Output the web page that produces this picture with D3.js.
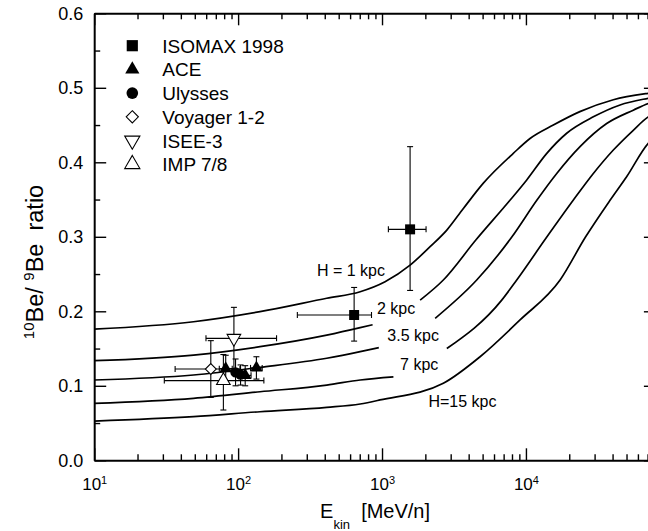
<!DOCTYPE html>
<html><head><meta charset="utf-8">
<script src="https://cdn.jsdelivr.net/npm/d3@7"></script>
<style>
body{margin:0;background:#fff}
svg{display:block}
text{font-family:"Liberation Sans",Arial,Helvetica,sans-serif;fill:#000}
</style></head><body>
<svg id="c" width="648" height="531"></svg>
<script>
// ---------------- data ----------------
// model curves: [E (MeV/n), 10Be/9Be]; null = gap left for the label
const curveH1  = [[10,0.176],[49,0.186],[142,0.1995],[413,0.2175],[705,0.2263],[1050,0.2397],[1567,0.262],[2158,0.2867],[2820,0.309],[3675,0.338],[5060,0.372],[8170,0.412],[10680,0.432],[15500,0.450],[23700,0.468],[40500,0.484],[70800,0.4926],[80000,0.494]];
const curveH2  = [[10,0.1337],[49,0.1413],[142,0.1525],[413,0.168],[705,0.178],[860,0.182],null,[1840,0.215],[2667,0.242],[4500,0.296],[7745,0.349],[10100,0.376],[13960,0.412],[19200,0.439],[29400,0.461],[45100,0.477],[70800,0.486],[80000,0.488]];
const curveH35 = [[10,0.1078],[49,0.1145],[142,0.1248],[413,0.137],[705,0.1458],[950,0.1513],null,[2340,0.1906],[4550,0.242],[8000,0.300],[11900,0.349],[16370,0.385],[23770,0.421],[36400,0.452],[55700,0.470],[70800,0.479],[80000,0.482]];
const curveH7  = [[10,0.0765],[49,0.0832],[142,0.092],[413,0.101],[705,0.1078],[1200,0.112],null,[2820,0.150],[6790,0.215],[8630,0.242],[14000,0.300],[21300,0.349],[29400,0.385],[40500,0.4165],[55700,0.443],[70800,0.461],[80000,0.466]];
const curveH15 = [[10,0.0527],[49,0.0585],[142,0.0652],[413,0.071],[705,0.0756],[968,0.081],[2667,0.1034],[4800,0.139],[9100,0.1884],[17270,0.242],[26000,0.300],[38400,0.349],[50200,0.381],[70800,0.4255],[80000,0.435]];
const curveNames = ["H = 1 kpc","2 kpc","3.5 kpc","7 kpc","H=15 kpc"];
// label anchors in data units [E, value]
const curveLabelAt = [[353,0.2474],[923,0.1966],[1089,0.1601],[1334,0.1212],[2100,0.0715]];

// measurements: E, value, E-range, value-range
const isomaxE = [640, 1567], isomaxV = [0.195, 0.310];
const isomaxXlo = [258, 1107], isomaxXhi = [845, 2023];
const isomaxYlo = [0.160, 0.228], isomaxYhi = [0.232, 0.421];

const aceE = [82, 112, 134], aceV = [0.123, 0.114, 0.124];
const aceXlo = [74, 102, 122], aceXhi = [91, 123, 147];
const aceYlo = [0.106, 0.100, 0.109], aceYhi = [0.141, 0.127, 0.139];

const ulyE = [96, 104], ulyV = [0.118, 0.115];
const ulyYlo = [0.100, 0.101], ulyYhi = [0.136, 0.128];

const voyE = [64.6], voyV = [0.1225];
const voyXlo = [36.5], voyXhi = [103];
const voyYlo = [0.0845], voyYhi = [0.1606];

const iseeE = [93.5], iseeV = [0.1637];
const iseeXlo = [59.8], iseeXhi = [185];
const iseeYlo = [0.123], iseeYhi = [0.2053];

const impE = [79], impV = [0.107];
const impXlo = [30.7], impXhi = [151];
const impYlo = [0.0675], impYhi = [0.142];

const legendNames = ["ISOMAX 1998","ACE","Ulysses","Voyager 1-2","ISEE-3","IMP 7/8"];

const xMajor = [10, 100, 1000, 10000];
const xExp = ["1","2","3","4"];
const yMajor = [0, 0.1, 0.2, 0.3, 0.4, 0.5, 0.6];
const yLabels = ["0.0","0.1","0.2","0.3","0.4","0.5","0.6"];
const yMinor = [0.05, 0.15, 0.25, 0.35, 0.45, 0.55];
const E_MIN = 10, E_MAX = 80000;

// ---------------- drawing ----------------
const svg = d3.select("#c");
const x = d3.scaleLog().domain([E_MIN, E_MAX]).range([94.2, 655.9]);
const y = d3.scaleLinear().domain([0, 0.6]).range([460.3, 13.3]);

const xMinor = [];
xMajor.forEach(d => { for (let k = 2; k <= 9; k++) if (d * k < E_MAX) xMinor.push(d * k); });

function styleAxis(g, labels) {
  g.attr("font-family", null).attr("font-size", null);
  g.select(".domain").attr("stroke", "#000").attr("stroke-width", 2);
  g.selectAll(".tick line").attr("stroke", "#000").attr("stroke-width", 1.4);
  if (!labels) g.selectAll(".tick text").remove();
}

// bottom
const gxB = svg.append("g").attr("transform", `translate(0,${y(0)})`)
  .call(d3.axisBottom(x).tickValues(xMajor).tickSize(-12).tickSizeOuter(0).tickPadding(18).tickFormat(() => ""));
styleAxis(gxB, true);
gxB.selectAll(".tick text").attr("font-size", 17).each(function (d, i) {
  const t = d3.select(this);
  t.append("tspan").text("10");
  t.append("tspan").attr("dy", "-0.55em").attr("font-size", 11).text(xExp[i]);
});
svg.append("g").attr("transform", `translate(0,${y(0)})`)
  .call(d3.axisBottom(x).tickValues(xMinor).tickSize(-6).tickSizeOuter(0).tickFormat(""))
  .call(g => { styleAxis(g, false); g.select(".domain").remove(); });
// top
svg.append("g").attr("transform", `translate(0,${y(0.6)})`)
  .call(d3.axisTop(x).tickValues(xMajor).tickSize(-12).tickSizeOuter(0).tickFormat(""))
  .call(g => styleAxis(g, false));
svg.append("g").attr("transform", `translate(0,${y(0.6)})`)
  .call(d3.axisTop(x).tickValues(xMinor).tickSize(-6).tickSizeOuter(0).tickFormat(""))
  .call(g => { styleAxis(g, false); g.select(".domain").remove(); });
// left
const gyL = svg.append("g").attr("transform", `translate(${x(E_MIN)},0)`)
  .call(d3.axisLeft(y).tickValues(yMajor).tickSize(-12).tickSizeOuter(0).tickPadding(11).tickFormat((d, i) => yLabels[i]));
styleAxis(gyL, true);
gyL.selectAll(".tick text").attr("font-size", 18);
svg.append("g").attr("transform", `translate(${x(E_MIN)},0)`)
  .call(d3.axisLeft(y).tickValues(yMinor).tickSize(-6).tickSizeOuter(0).tickFormat(""))
  .call(g => { styleAxis(g, false); g.select(".domain").remove(); });
// right
svg.append("g").attr("transform", `translate(${x(E_MAX)},0)`)
  .call(d3.axisRight(y).tickValues(yMajor).tickSize(-12).tickSizeOuter(0).tickFormat(""))
  .call(g => styleAxis(g, false));
svg.append("g").attr("transform", `translate(${x(E_MAX)},0)`)
  .call(d3.axisRight(y).tickValues(yMinor).tickSize(-6).tickSizeOuter(0).tickFormat(""))
  .call(g => { styleAxis(g, false); g.select(".domain").remove(); });

// axis titles
svg.append("text").attr("x", (x(E_MIN) + x(E_MAX)) / 2).attr("y", 518)
  .attr("text-anchor", "middle").attr("font-size", 20).style("white-space", "pre")
  .call(t => {
    t.append("tspan").text("E");
    t.append("tspan").attr("font-size", 13).attr("dy", 11).text("kin");
    t.append("tspan").attr("dy", -11).text("  [MeV/n]");
  });
svg.append("text").attr("transform", `translate(43,262) rotate(-90)`)
  .attr("text-anchor", "middle").attr("font-size", 23.5).style("white-space", "pre")
  .call(t => {
    t.append("tspan").attr("font-size", 15).attr("dy", -9).text("10");
    t.append("tspan").attr("dy", 9).text("Be/ ");
    t.append("tspan").attr("font-size", 15).attr("dy", -9).text("9");
    t.append("tspan").attr("dy", 9).text("Be  ratio");
  });

// clip to frame
svg.append("clipPath").attr("id", "clip").append("rect")
  .attr("x", x(E_MIN)).attr("y", y(0.6)).attr("width", x(E_MAX) - x(E_MIN)).attr("height", y(0) - y(0.6));

const line = d3.line().defined(d => d !== null).x(d => x(d[0])).y(d => y(d[1])).curve(d3.curveMonotoneX);
const curves = [curveH1, curveH2, curveH35, curveH7, curveH15];
svg.append("g").attr("clip-path", "url(#clip)").selectAll("path").data(curves).join("path")
  .attr("d", line).attr("fill", "none").attr("stroke", "#000").attr("stroke-width", 1.7);

svg.append("g").selectAll("text").data(curveNames).join("text")
  .attr("x", (d, i) => x(curveLabelAt[i][0])).attr("y", (d, i) => y(curveLabelAt[i][1]))
  .attr("font-size", 16).text(d => d);

// error bars
const eb = svg.append("g").attr("stroke", "#000").attr("stroke-width", 1.1).attr("fill", "none");
const CAP = 3;
function vbar(E, lo, hi) {
  E.forEach((e, i) => {
    const xx = x(e);
    eb.append("line").attr("x1", xx).attr("x2", xx).attr("y1", y(lo[i])).attr("y2", y(hi[i]));
    eb.append("line").attr("x1", xx - CAP).attr("x2", xx + CAP).attr("y1", y(lo[i])).attr("y2", y(lo[i]));
    eb.append("line").attr("x1", xx - CAP).attr("x2", xx + CAP).attr("y1", y(hi[i])).attr("y2", y(hi[i]));
  });
}
function hbar(V, lo, hi) {
  V.forEach((v, i) => {
    const yy = y(v);
    eb.append("line").attr("y1", yy).attr("y2", yy).attr("x1", x(lo[i])).attr("x2", x(hi[i]));
    eb.append("line").attr("y1", yy - CAP).attr("y2", yy + CAP).attr("x1", x(lo[i])).attr("x2", x(lo[i]));
    eb.append("line").attr("y1", yy - CAP).attr("y2", yy + CAP).attr("x1", x(hi[i])).attr("x2", x(hi[i]));
  });
}
vbar(impE, impYlo, impYhi); hbar(impV, impXlo, impXhi);
vbar(voyE, voyYlo, voyYhi); hbar(voyV, voyXlo, voyXhi);
vbar(iseeE, iseeYlo, iseeYhi); hbar(iseeV, iseeXlo, iseeXhi);
vbar(ulyE, ulyYlo, ulyYhi);
vbar(aceE, aceYlo, aceYhi); hbar(aceV, aceXlo, aceXhi);
vbar(isomaxE, isomaxYlo, isomaxYhi); hbar(isomaxV, isomaxXlo, isomaxXhi);

// symbols
const symDefs = [
  { type: d3.symbolSquare, size: 100, fill: "#000", rot: 0 },
  { type: d3.symbolTriangle, size: 70, fill: "#000", rot: 0 },
  { type: d3.symbolCircle, size: 85, fill: "#000", rot: 0 },
  { type: d3.symbolDiamond2, size: 75, fill: "#fff", rot: 0 },
  { type: d3.symbolTriangle, size: 80, fill: "#fff", rot: 180 },
  { type: d3.symbolTriangle, size: 80, fill: "#fff", rot: 0 }
];
function marks(E, V, k) {
  const s = symDefs[k];
  svg.append("g").selectAll("path").data(E).join("path")
    .attr("d", d3.symbol(s.type, s.size))
    .attr("transform", (d, i) => `translate(${x(d)},${y(V[i])}) rotate(${s.rot})`)
    .attr("fill", s.fill).attr("stroke", "#000").attr("stroke-width", s.fill === "#fff" ? 1.1 : 0);
}
marks(impE, impV, 5);
marks(voyE, voyV, 3);
marks(iseeE, iseeV, 4);
marks(ulyE, ulyV, 2);
marks(aceE, aceV, 1);
marks(isomaxE, isomaxV, 0);

// legend
const leg = svg.append("g");
legendNames.forEach((name, i) => {
  const cy = 45.7 + i * 23.7;
  const s = symDefs[i];
  leg.append("path").attr("d", d3.symbol(s.type, s.size * 1.25))
    .attr("transform", `translate(132.3,${cy}) rotate(${s.rot})`)
    .attr("fill", s.fill).attr("stroke", "#000").attr("stroke-width", s.fill === "#fff" ? 1.1 : 0);
  leg.append("text").attr("x", 162.3).attr("y", cy + 7).attr("font-size", 19).text(name);
});
</script>
</body></html>
